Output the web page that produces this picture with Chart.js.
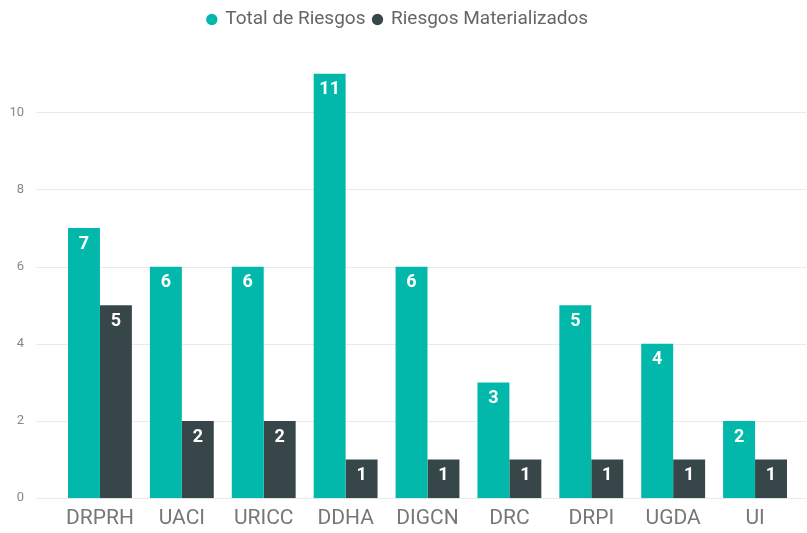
<!DOCTYPE html>
<html>
<head>
<meta charset="utf-8">
<script src="https://cdn.jsdelivr.net/npm/chart.js@4.4.0/dist/chart.umd.min.js"></script>
<style>
  html, body { margin: 0; padding: 0; background: #fff; overflow: hidden; }
  canvas { display: block; }
</style>
</head>
<body>
<canvas id="riesgos" width="807" height="533"></canvas>
<script>
  // datos
  const categorias = ["DRPRH", "UACI", "URICC", "DDHA", "DIGCN", "DRC", "DRPI", "UGDA", "UI"];
  const totalRiesgos = [7, 6, 6, 11, 6, 3, 5, 4, 2];
  const riesgosMaterializados = [5, 2, 2, 1, 1, 1, 1, 1, 1];
  const ticksY = [0, 2, 4, 6, 8, 10];

  // lineas de cuadricula que empiezan mas a la izquierda que las barras
  const gridPlugin = {
    id: "gridLines",
    beforeDatasetsDraw(chart) {
      const ctx = chart.ctx;
      const y = chart.scales.y;
      ctx.save();
      ctx.strokeStyle = "#eaeaea";
      ctx.lineWidth = 1;
      ticksY.forEach(function (v) {
        const py = Math.round(y.getPixelForValue(v)) + 0.5;
        ctx.beginPath();
        ctx.moveTo(36, py);
        ctx.lineTo(806, py);
        ctx.stroke();
      });
      ctx.restore();
    },
  };

  // etiquetas de valor dentro de las barras
  const labelPlugin = {
    id: "valueLabels",
    afterDatasetsDraw(chart) {
      const ctx = chart.ctx;
      ctx.save();
      ctx.fillStyle = "#ffffff";
      ctx.font = "bold 18px Roboto";
      ctx.textAlign = "center";
      ctx.textBaseline = "middle";
      chart.data.datasets.forEach(function (ds, i) {
        chart.getDatasetMeta(i).data.forEach(function (bar, j) {
          ctx.fillText(ds.data[j], bar.x, bar.y + 16);
        });
      });
      ctx.restore();
    },
  };

  const ctx = document.getElementById("riesgos").getContext("2d");
  new Chart(ctx, {
    type: "bar",
    data: {
      labels: categorias,
      datasets: [
        {
          label: "Total de Riesgos",
          data: totalRiesgos,
          backgroundColor: "#01B8AA",
          categoryPercentage: 0.78,
          barPercentage: 1,
        },
        {
          label: "Riesgos Materializados",
          data: riesgosMaterializados,
          backgroundColor: "#374649",
          categoryPercentage: 0.78,
          barPercentage: 1,
        },
      ],
    },
    options: {
      responsive: false,
      maintainAspectRatio: false,
      animation: false,
      layout: { padding: { left: 0, right: 11, top: 2, bottom: 0 } },
      plugins: {
        tooltip: { enabled: false },
        legend: {
          position: "top",
          labels: {
            usePointStyle: true,
            pointStyle: "circle",
            boxWidth: 8,
            boxHeight: 8,
            padding: 8,
            color: "#666666",
            font: { family: "Roboto", size: 19 },
          },
        },
      },
      scales: {
        x: {
          grid: { display: false, drawTicks: false },
          border: { display: false },
          afterFit(scale) { scale.height = 32; },
          ticks: {
            color: "#777777",
            font: { family: "Roboto", size: 21, lineHeight: 1 },
            padding: 10,
          },
        },
        y: {
          min: 0,
          max: 11.9,
          grid: { display: false },
          border: { display: false },
          afterFit(scale) { scale.width = 59; },
          ticks: {
            stepSize: 2,
            color: "#888888",
            font: { family: "Roboto", size: 13 },
            padding: 27,
            callback: function (v) { return ticksY.includes(v) ? v : ""; },
          },
        },
      },
    },
    plugins: [gridPlugin, labelPlugin],
  });
</script>
</body>
</html>
